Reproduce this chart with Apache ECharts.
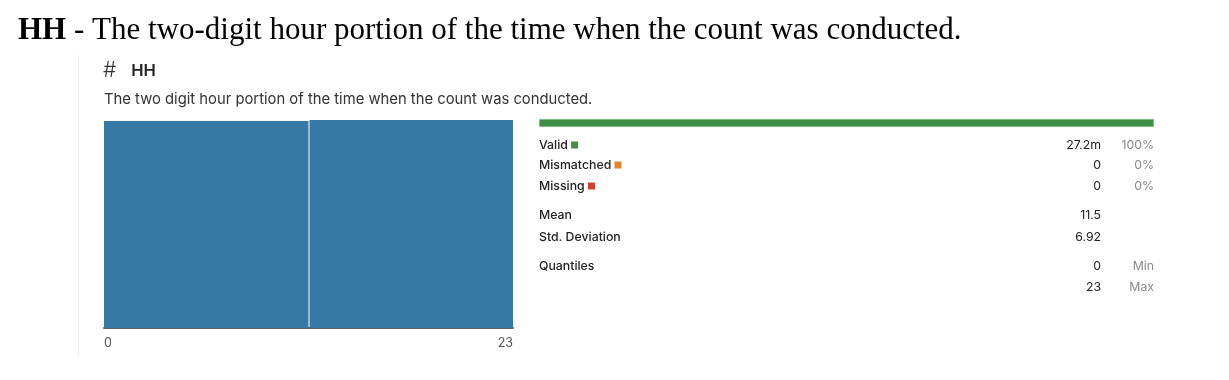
<!DOCTYPE html>
<html><head><meta charset="utf-8">
<script src="https://cdn.jsdelivr.net/npm/echarts@6/dist/echarts.min.js"></script>
<style>html,body{margin:0;padding:0;background:#fff}#c{width:1229px;height:380px}</style>
</head><body><div id="c"></div>
<script>
// ---- data ----
const binEdges = [0, 11.5, 23];
const binCounts = [13.55, 13.62]; // millions
const axisTicks = [0, 23];
const statusLabels = ['Valid', 'Mismatched', 'Missing'];
const statusCounts = [27.2, 0, 0]; // millions
const statusCountText = ['27.2m', '0', '0'];
const statusPct = ['100%', '0%', '0%'];
const statusColors = ['#3f8f46', '#e0832f', '#d23f33'];
const summaryLabels = ['Mean', 'Std. Deviation'];
const summaryValues = ['11.5', '6.92'];
const quantileValues = ['0', '23'];
const quantileNames = ['Min', 'Max'];

const chart = echarts.init(document.getElementById('c'));
const FONT = 'Inter, Roboto, sans-serif';

const histData = binCounts.map((c, i) => [binEdges[i], binEdges[i + 1], c]);

const graphics = [];
graphics.push({type: 'text', left: 18, top: 15, style: {
  text: '{b|HH} - The two-digit hour portion of the time when the count was conducted.',
  font: '31px "Liberation Serif", serif', fill: '#000',
  rich: {b: {font: 'bold 31px "Liberation Serif", serif', fill: '#000'}}
}});
graphics.push({type: 'line', shape: {x1: 78.5, y1: 55, x2: 78.5, y2: 357}, style: {stroke: '#ececec', lineWidth: 1}});
graphics.push({type: 'text', x: 103, y: 71, style: {
  text: '{h|#}{g|}{t|HH}', verticalAlign: 'middle',
  rich: {h: {font: '300 21px ' + FONT, fill: '#333'}, g: {width: 15}, t: {font: '600 16.5px ' + FONT, fill: '#222'}}
}});
graphics.push({type: 'text', x: 104, y: 100, style: {
  text: 'The two digit hour portion of the time when the count was conducted.', font: '14.8px ' + FONT, fill: '#333', verticalAlign: 'middle'
}});
const rowY = [145, 165, 186];
statusLabels.forEach((lab, i) => {
  graphics.push({type: 'text', x: 539, y: rowY[i], style: {
    text: lab + ' {s|}', font: '500 12.3px ' + FONT, fill: '#222', verticalAlign: 'middle',
    rich: {s: {width: 7, height: 7, backgroundColor: statusColors[i]}}
  }});
  graphics.push({type: 'text', x: 1101, y: rowY[i], style: {text: statusCountText[i], font: '12.3px ' + FONT, fill: '#222', align: 'right', verticalAlign: 'middle'}});
  graphics.push({type: 'text', x: 1154, y: rowY[i], style: {text: statusPct[i], font: '12.3px ' + FONT, fill: '#888', align: 'right', verticalAlign: 'middle'}});
});
const sumY = [215, 237];
summaryLabels.forEach((lab, i) => {
  graphics.push({type: 'text', x: 539, y: sumY[i], style: {text: lab, font: '500 12.3px ' + FONT, fill: '#222', verticalAlign: 'middle'}});
  graphics.push({type: 'text', x: 1101, y: sumY[i], style: {text: summaryValues[i], font: '12.3px ' + FONT, fill: '#222', align: 'right', verticalAlign: 'middle'}});
});
graphics.push({type: 'text', x: 539, y: 266, style: {text: 'Quantiles', font: '500 12.3px ' + FONT, fill: '#222', verticalAlign: 'middle'}});
const qY = [266, 287];
quantileValues.forEach((v, i) => {
  graphics.push({type: 'text', x: 1101, y: qY[i], style: {text: v, font: '12.3px ' + FONT, fill: '#222', align: 'right', verticalAlign: 'middle'}});
  graphics.push({type: 'text', x: 1154, y: qY[i], style: {text: quantileNames[i], font: '12.3px ' + FONT, fill: '#888', align: 'right', verticalAlign: 'middle'}});
});

const total = statusCounts.reduce((a, b) => a + b, 0);

chart.setOption({
  animation: false,
  graphic: graphics,
  grid: [
    {left: 104, right: 716, top: 120, bottom: 52},
    {left: 539, right: 75, top: 119, height: 8}
  ],
  xAxis: [
    {gridIndex: 0, type: 'value', min: axisTicks[0], max: axisTicks[1], interval: axisTicks[1] - axisTicks[0],
     splitLine: {show: false}, axisTick: {show: false},
     axisLine: {show: true, onZero: false, lineStyle: {color: '#666', width: 2}},
     axisLabel: {color: '#555', fontFamily: FONT, fontSize: 12.5, margin: 9, alignMinLabel: 'left', alignMaxLabel: 'right'}},
    {gridIndex: 1, type: 'value', min: 0, max: total, show: false}
  ],
  yAxis: [
    {gridIndex: 0, type: 'value', min: 0, max: Math.max(...binCounts), show: false},
    {gridIndex: 1, type: 'category', data: ['s'], show: false}
  ],
  series: [
    {type: 'custom', xAxisIndex: 0, yAxisIndex: 0, data: histData,
     renderItem: function (params, api) {
       const p0 = api.coord([api.value(0), api.value(2)]);
       const p1 = api.coord([api.value(1), 0]);
       const gapL = params.dataIndex > 0 ? 1 : 0;
       return {type: 'rect', shape: {x: p0[0] + gapL, y: p0[1], width: p1[0] - p0[0] - gapL, height: p1[1] - p0[1]},
               style: {fill: '#3779a5'}};
     }}
  ].concat(statusLabels.map((lab, i) => ({
    type: 'bar', name: lab, xAxisIndex: 1, yAxisIndex: 1, stack: 's', barWidth: 8,
    data: [statusCounts[i]], itemStyle: {color: statusColors[i], borderColor: i === 0 ? '#a9d2ac' : 'transparent', borderWidth: 0.5}
  })))
});
</script></body></html>
